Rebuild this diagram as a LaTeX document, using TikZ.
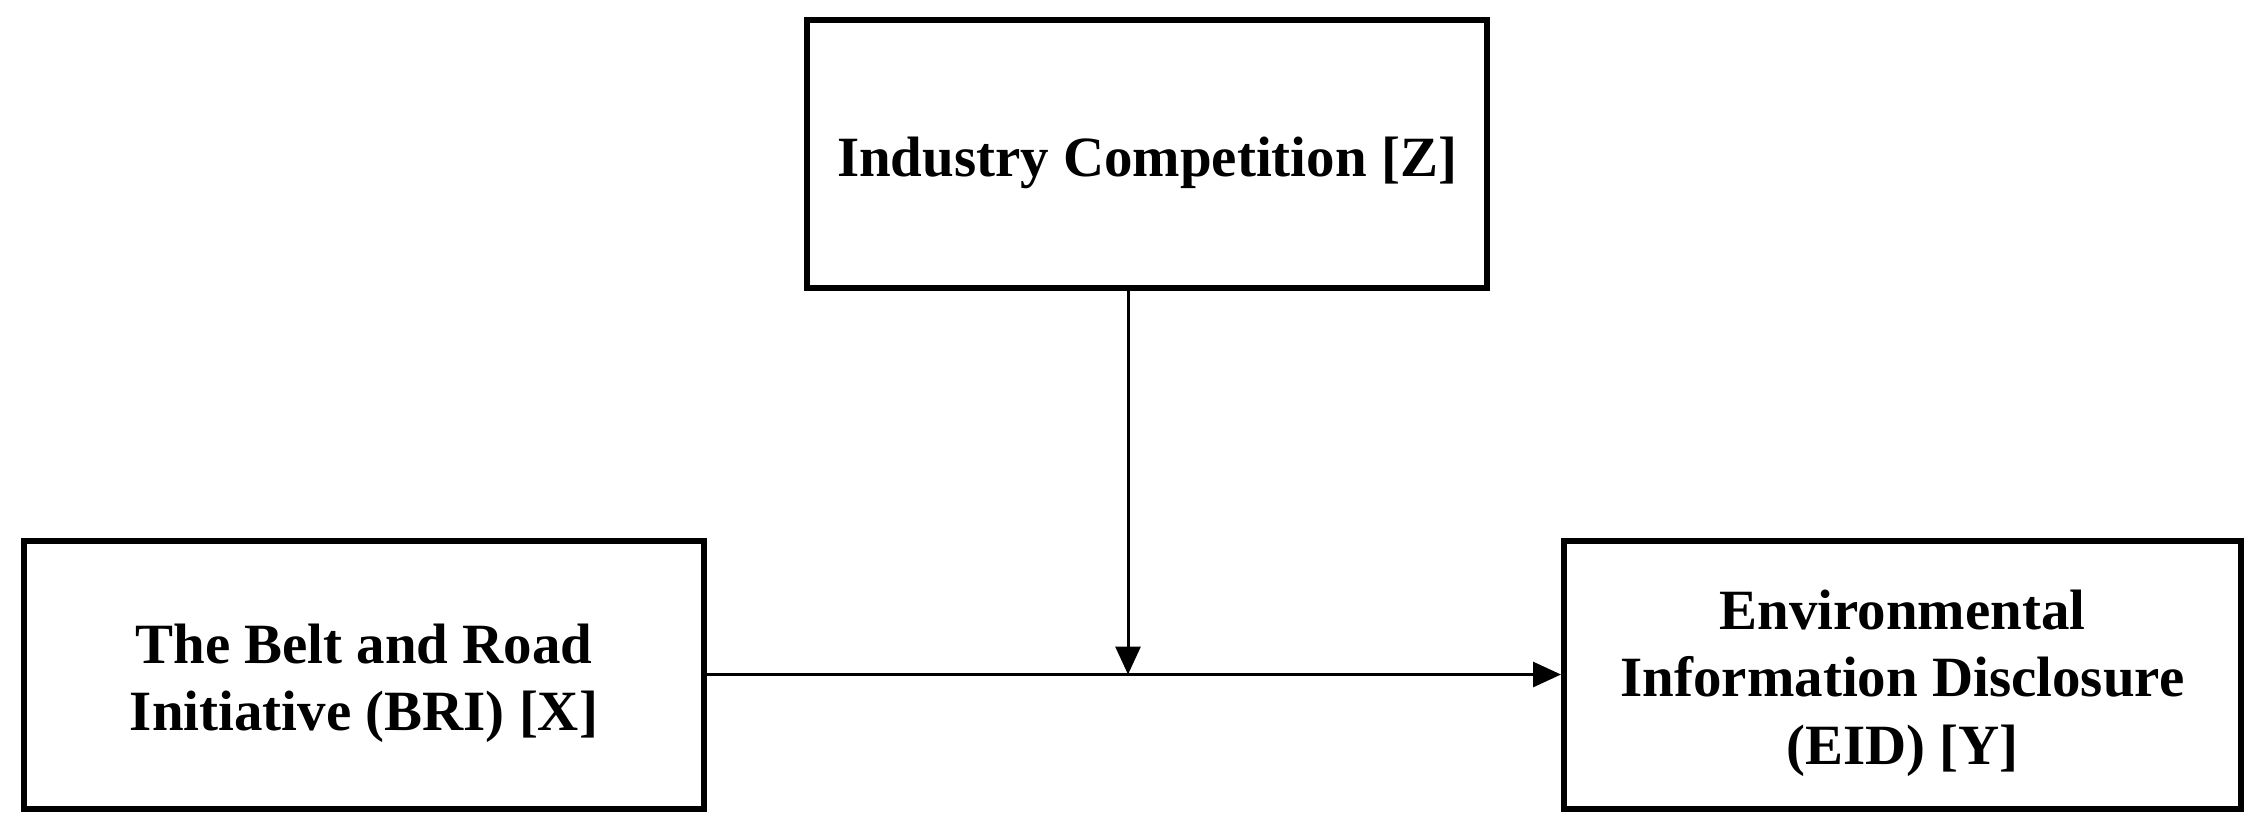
\documentclass[tikz,border=0pt]{standalone}
\usepackage{fontspec}
\setmainfont{Liberation Serif}
\usetikzlibrary{arrows.meta}

% strut that pushes the text a little down in its box
\newcommand{\lift}{\rule{0pt}{1em}}

\tikzset{
  varbox/.style={draw, line width=0.06cm, minimum width=6.8cm, minimum height=2.68cm,
    align=center, inner sep=0pt, font=\fontsize{16.2}{19.2}\selectfont\bfseries},
  link/.style={line width=0.03cm, -{Triangle[length=0.28cm,width=0.25cm]}}
}

\begin{document}
\begin{tikzpicture}
\useasboundingbox (0,0) rectangle (22.61,8.39);

% Boxes
\node[varbox] (moderator) at (11.47,6.85) {\lift Industry Competition [Z]};
\node[varbox] (bri) at (3.64,1.645) {\lift The Belt and Road\\Initiative (BRI) [X]};
\node[varbox, minimum width=6.77cm] (eid) at (19.025,1.645) {\lift Environmental\\Information Disclosure\\(EID) [Y]};

% Main path
\draw[link] (bri.east) -- (eid.west);

% Moderation
\coordinate (meet) at (11.28,1.645);
\draw[link] (moderator.south -| meet) -- (meet);
\end{tikzpicture}
\end{document}
